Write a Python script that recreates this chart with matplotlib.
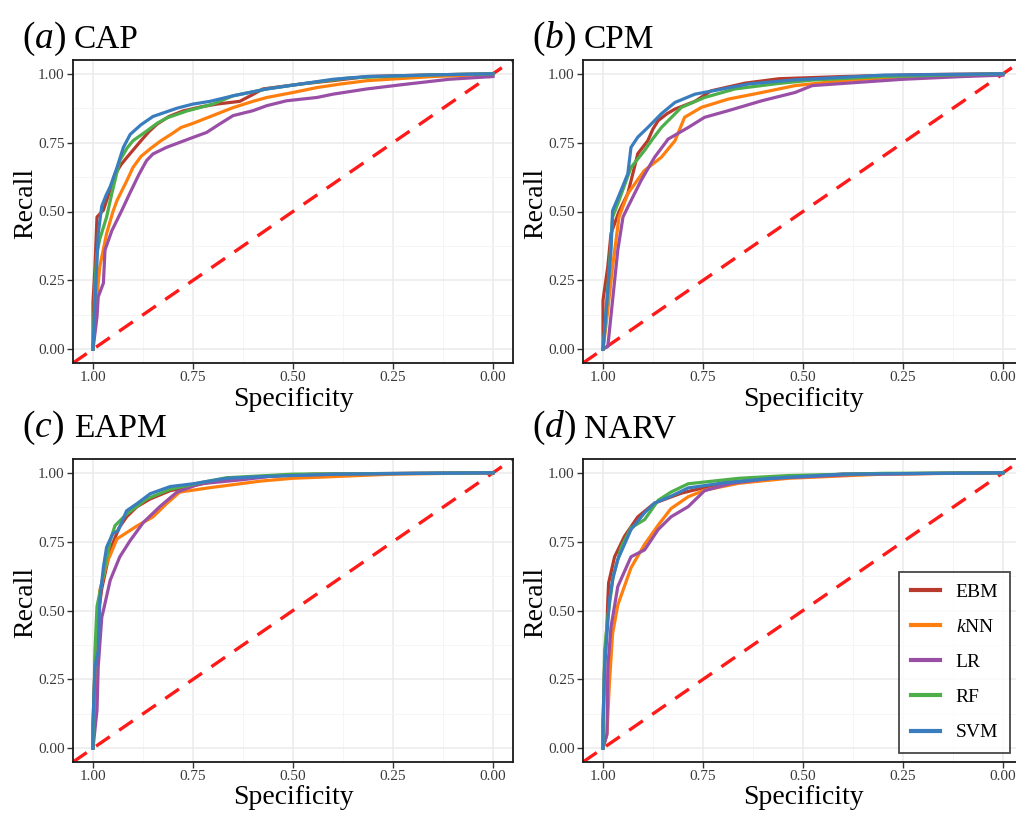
import numpy as np
import matplotlib
matplotlib.use('Agg')
import matplotlib.pyplot as plt
from matplotlib.ticker import MultipleLocator

plt.rcParams['font.family'] = ['Liberation Serif', 'DejaVu Serif']
plt.rcParams['mathtext.fontset'] = 'custom'
plt.rcParams['mathtext.rm'] = 'Liberation Serif'
plt.rcParams['mathtext.it'] = 'Liberation Serif:italic'

# (specificity, recall) points
cap_ebm = [(1.0, 0.0), (1.0, 0.17), (0.995, 0.30), (0.99, 0.48), (0.974, 0.505), (0.966, 0.54),
           (0.945, 0.635), (0.93, 0.67), (0.916, 0.695), (0.88, 0.757), (0.86, 0.79), (0.84, 0.817),
           (0.81, 0.845), (0.775, 0.865), (0.73, 0.88), (0.69, 0.89), (0.633, 0.90), (0.6, 0.925),
           (0.575, 0.945), (0.48, 0.963), (0.40, 0.975), (0.315, 0.99), (0.15, 0.996), (0.0, 1.0)]
cap_knn = [(1.0, 0.0), (0.995, 0.117), (0.983, 0.30), (0.966, 0.42), (0.95, 0.50), (0.94, 0.54),
           (0.916, 0.61), (0.9, 0.66), (0.88, 0.70), (0.855, 0.73), (0.83, 0.757), (0.80, 0.785),
           (0.78, 0.805), (0.75, 0.82), (0.715, 0.84), (0.68, 0.86), (0.65, 0.877), (0.60, 0.90),
           (0.565, 0.914), (0.50, 0.932), (0.44, 0.95), (0.38, 0.963), (0.315, 0.975), (0.15, 0.99), (0.0, 0.998)]
cap_lr = [(1.0, 0.0), (0.99, 0.117), (0.987, 0.19), (0.974, 0.24), (0.97, 0.36), (0.953, 0.43),
          (0.928, 0.504), (0.91, 0.56), (0.90, 0.59), (0.885, 0.635), (0.866, 0.685), (0.85, 0.709),
          (0.816, 0.733), (0.783, 0.751), (0.75, 0.769), (0.716, 0.787), (0.683, 0.818), (0.65, 0.848),
          (0.60, 0.866), (0.566, 0.884), (0.516, 0.902), (0.44, 0.914), (0.40, 0.926), (0.315, 0.945),
          (0.23, 0.96), (0.11, 0.98), (0.0, 0.99)]
cap_rf = [(1.0, 0.0), (0.995, 0.24), (0.99, 0.35), (0.983, 0.40), (0.966, 0.48), (0.953, 0.565),
          (0.933, 0.685), (0.915, 0.73), (0.90, 0.757), (0.865, 0.793), (0.84, 0.82), (0.815, 0.84),
          (0.765, 0.865), (0.70, 0.89), (0.65, 0.92), (0.565, 0.945), (0.48, 0.963), (0.36, 0.985),
          (0.15, 0.996), (0.0, 1.0)]
cap_svm = [(1.0, 0.0), (0.995, 0.178), (0.99, 0.32), (0.987, 0.42), (0.978, 0.52), (0.967, 0.56),
           (0.957, 0.59), (0.94, 0.66), (0.924, 0.733), (0.907, 0.78), (0.88, 0.815), (0.85, 0.845),
           (0.82, 0.86), (0.79, 0.875), (0.75, 0.89), (0.707, 0.90), (0.65, 0.92), (0.565, 0.945),
           (0.48, 0.963), (0.40, 0.98), (0.315, 0.99), (0.15, 0.996), (0.0, 1.0)]

cpm_ebm = [(1.0, 0.0), (1.0, 0.178), (0.988, 0.30), (0.98, 0.42), (0.96, 0.50), (0.938, 0.565),
           (0.925, 0.64), (0.913, 0.71), (0.888, 0.757), (0.875, 0.80), (0.862, 0.83), (0.84, 0.855),
           (0.82, 0.872), (0.77, 0.90), (0.73, 0.938), (0.645, 0.966), (0.56, 0.982), (0.40, 0.99),
           (0.2, 0.997), (0.0, 1.0)]
cpm_knn = [(1.0, 0.0), (0.99, 0.117), (0.976, 0.30), (0.96, 0.48), (0.938, 0.565), (0.897, 0.648),
           (0.854, 0.697), (0.82, 0.757), (0.796, 0.842), (0.754, 0.878), (0.687, 0.908), (0.603, 0.932),
           (0.52, 0.957), (0.40, 0.975), (0.25, 0.99), (0.0, 1.0)]
cpm_lr = [(1.0, 0.0), (0.988, 0.01), (0.976, 0.178), (0.963, 0.36), (0.95, 0.48), (0.938, 0.516),
          (0.905, 0.612), (0.871, 0.697), (0.837, 0.763), (0.787, 0.805), (0.746, 0.842), (0.687, 0.866),
          (0.603, 0.902), (0.52, 0.932), (0.477, 0.957), (0.35, 0.97), (0.25, 0.98), (0.1, 0.99), (0.0, 0.995)]
cpm_rf = [(1.0, 0.0), (0.996, 0.06), (0.984, 0.30), (0.976, 0.48), (0.96, 0.54), (0.93, 0.66),
          (0.897, 0.72), (0.875, 0.765), (0.854, 0.805), (0.83, 0.84), (0.804, 0.878), (0.746, 0.914),
          (0.67, 0.945), (0.56, 0.965), (0.477, 0.977), (0.30, 0.99), (0.0, 1.0)]
cpm_svm = [(1.0, 0.0), (0.99, 0.178), (0.98, 0.36), (0.976, 0.503), (0.967, 0.534), (0.955, 0.576),
           (0.938, 0.637), (0.93, 0.733), (0.913, 0.77), (0.888, 0.805), (0.854, 0.855), (0.82, 0.896),
           (0.77, 0.926), (0.70, 0.945), (0.636, 0.963), (0.52, 0.978), (0.30, 0.995), (0.0, 1.0)]

eapm_ebm = [(1.0, 0.0), (1.0, 0.09), (0.995, 0.30), (0.99, 0.45), (0.978, 0.58), (0.957, 0.72),
            (0.935, 0.80), (0.916, 0.84), (0.89, 0.877), (0.857, 0.905), (0.807, 0.935), (0.707, 0.966),
            (0.625, 0.982), (0.45, 0.995), (0.0, 1.0)]
eapm_knn = [(1.0, 0.0), (0.995, 0.174), (0.99, 0.40), (0.983, 0.573), (0.966, 0.67), (0.94, 0.76),
            (0.89, 0.807), (0.85, 0.84), (0.816, 0.888), (0.783, 0.93), (0.707, 0.946), (0.58, 0.97),
            (0.50, 0.98), (0.25, 0.995), (0.0, 1.0)]
eapm_lr = [(1.0, 0.0), (0.99, 0.138), (0.987, 0.295), (0.978, 0.476), (0.974, 0.50), (0.957, 0.61),
           (0.933, 0.695), (0.907, 0.754), (0.874, 0.82), (0.833, 0.877), (0.79, 0.93), (0.733, 0.96),
           (0.625, 0.975), (0.54, 0.99), (0.3, 0.997), (0.0, 1.0)]
eapm_rf = [(1.0, 0.0), (0.995, 0.355), (0.99, 0.515), (0.978, 0.60), (0.957, 0.754), (0.945, 0.808),
           (0.916, 0.85), (0.866, 0.905), (0.807, 0.94), (0.725, 0.966), (0.666, 0.982), (0.5, 0.995), (0.0, 1.0)]
eapm_svm = [(1.0, 0.0), (1.0, 0.09), (0.995, 0.295), (0.987, 0.355), (0.983, 0.536), (0.974, 0.657),
            (0.966, 0.73), (0.95, 0.78), (0.937, 0.79), (0.916, 0.862), (0.89, 0.888), (0.857, 0.924),
            (0.807, 0.95), (0.75, 0.96), (0.666, 0.98), (0.58, 0.986), (0.4, 0.995), (0.0, 1.0)]

narv_ebm = [(1.0, 0.0), (1.0, 0.09), (0.996, 0.30), (0.99, 0.45), (0.988, 0.536), (0.986, 0.60),
            (0.971, 0.695), (0.946, 0.77), (0.913, 0.84), (0.871, 0.89), (0.804, 0.926), (0.70, 0.963),
            (0.578, 0.98), (0.4, 0.995), (0.0, 1.0)]
narv_knn = [(1.0, 0.0), (0.99, 0.054), (0.984, 0.235), (0.976, 0.416), (0.963, 0.52), (0.93, 0.655),
            (0.896, 0.74), (0.862, 0.81), (0.83, 0.87), (0.787, 0.913), (0.746, 0.937), (0.66, 0.962),
            (0.536, 0.98), (0.3, 0.995), (0.0, 1.0)]
narv_lr = [(1.0, 0.0), (0.99, 0.05), (0.988, 0.295), (0.98, 0.44), (0.963, 0.587), (0.93, 0.695),
           (0.896, 0.72), (0.862, 0.794), (0.83, 0.84), (0.787, 0.877), (0.746, 0.935), (0.678, 0.962),
           (0.578, 0.98), (0.35, 0.995), (0.0, 1.0)]
narv_rf = [(1.0, 0.0), (0.996, 0.355), (0.988, 0.476), (0.975, 0.62), (0.955, 0.728), (0.93, 0.80),
           (0.896, 0.83), (0.862, 0.90), (0.83, 0.93), (0.787, 0.96), (0.66, 0.98), (0.536, 0.99),
           (0.3, 0.998), (0.0, 1.0)]
narv_svm = [(1.0, 0.0), (1.0, 0.09), (0.996, 0.295), (0.99, 0.416), (0.984, 0.536), (0.975, 0.62),
            (0.963, 0.685), (0.93, 0.794), (0.896, 0.855), (0.871, 0.89), (0.83, 0.915), (0.787, 0.945),
            (0.70, 0.963), (0.578, 0.98), (0.4, 0.995), (0.0, 1.0)]

models = ['EBM', '$k$NN', 'LR', 'RF', 'SVM']
colors = ['#B83A2C', '#FF7F0E', '#9A4FA6', '#4DAF4A', '#3A7DBF']
panels = [('(a)', 'CAP', [cap_ebm, cap_knn, cap_lr, cap_rf, cap_svm]),
          ('(b)', 'CPM', [cpm_ebm, cpm_knn, cpm_lr, cpm_rf, cpm_svm]),
          ('(c)', 'EAPM', [eapm_ebm, eapm_knn, eapm_lr, eapm_rf, eapm_svm]),
          ('(d)', 'NARV', [narv_ebm, narv_knn, narv_lr, narv_rf, narv_svm])]
ticks = [1.0, 0.75, 0.5, 0.25, 0.0]
tick_labels = ['1.00', '0.75', '0.50', '0.25', '0.00']

W, H = 1016, 816
fig = plt.figure(figsize=(W / 100, H / 100), dpi=100)

# axes boxes in pixels: left, top
boxes = [(73, 60), (583, 60), (73, 459), (583, 459)]
title_y = [48, 48, 437, 437]
aw, ah = 440, 303

for i, (tag, name, curves) in enumerate(panels):
    lx, ty = boxes[i]
    ax = fig.add_axes([lx / W, (H - ty - ah) / H, aw / W, ah / H])
    ax.set_xlim(1.05, -0.05)
    ax.set_ylim(-0.05, 1.05)
    ax.xaxis.set_minor_locator(MultipleLocator(0.125))
    ax.yaxis.set_minor_locator(MultipleLocator(0.125))
    ax.set_xticks(ticks)
    ax.set_xticklabels(tick_labels)
    ax.set_yticks(ticks)
    ax.set_yticklabels(tick_labels)
    ax.grid(which='major', color='#EBEBEB', lw=1.1)
    ax.grid(which='minor', color='#F4F4F4', lw=0.6)
    ax.set_axisbelow(True)
    ax.tick_params(which='major', length=4, width=1, color='#333333', labelsize=11,
                   labelcolor='#3A3A3A', pad=2)
    ax.tick_params(which='minor', length=0)
    for s in ax.spines.values():
        s.set_linewidth(1.3)
        s.set_color('#1A1A1A')

    # chance line
    ax.plot([1.05, -0.05], [-0.05, 1.05], color='#FF1A1A', lw=2.4, ls=(0, (5.0, 3.4)), zorder=2)

    for pts, lab, c in zip(curves, models, colors):
        pts = np.array(pts)
        ax.plot(pts[:, 0], pts[:, 1], color=c, lw=2.3, label=lab, zorder=3,
                solid_joinstyle='round')

    fig.text((lx + aw / 2) / W, (H - 399) / H - (ty - 60) / H, 'Specificity', fontsize=20,
             ha='center', va='center')
    fig.text(26 / W + (lx - 73) / W, (H - 203 - (ty - 60)) / H, 'Recall', fontsize=20,
             rotation=90, ha='center', va='center')

    fig.text((lx - 51) / W, (H - title_y[i]) / H, '$' + tag + '$', fontsize=27, ha='left', va='baseline')
    fig.text((lx + 1) / W, (H - title_y[i]) / H, name, fontsize=24, ha='left', va='baseline')

    if i == 3:
        leg = ax.legend(loc='lower right', bbox_to_anchor=(1010 / W, (H - 753) / H),
                        bbox_transform=fig.transFigure, borderaxespad=0, fontsize=14,
                        frameon=True, fancybox=False, edgecolor='#1A1A1A', handlelength=1.5,
                        labelspacing=0.9, borderpad=0.6, handletextpad=0.8)
        leg.get_frame().set_linewidth(1.3)
        for ln in leg.get_lines():
            ln.set_linewidth(3)

fig.savefig('out.png', dpi=100)
